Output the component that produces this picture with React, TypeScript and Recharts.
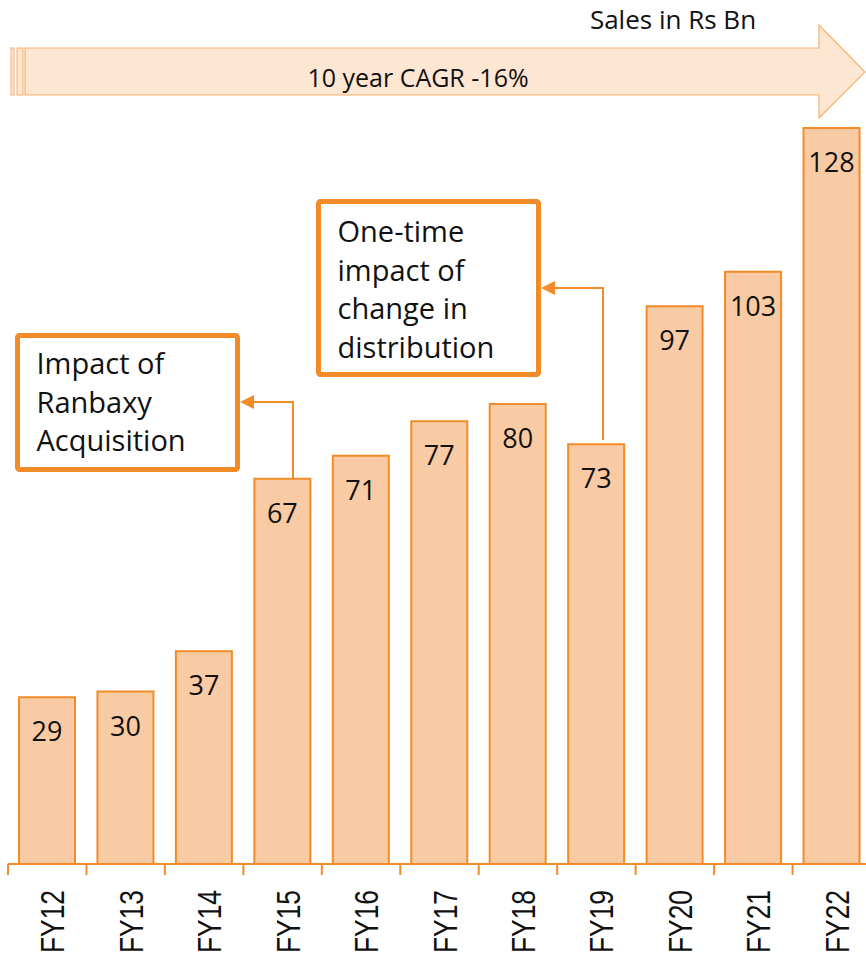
import { BarChart, Bar, XAxis, YAxis, LabelList } from 'recharts';

const YEARS = ['FY12', 'FY13', 'FY14', 'FY15', 'FY16', 'FY17', 'FY18', 'FY19', 'FY20', 'FY21', 'FY22'];
const SALES = [29, 30, 37, 67, 71, 77, 80, 73, 97, 103, 128];

const UNIT_LABEL = 'Sales in Rs Bn';
const CAGR_LABEL = '10 year CAGR -16%';
const NOTE_RANBAXY = ['Impact of', 'Ranbaxy', 'Acquisition'];
const NOTE_DISTRIBUTION = ['One-time', 'impact of', 'change in', 'distribution'];

const ORANGE = '#F28C28';
const BAR_FILL = '#F9CBA4';
const FONT = '"Open Sans", "Noto Sans", sans-serif';

const data = YEARS.map((year, i) => ({ year, sales: SALES[i] }));

const YearTick = ({ x, y, payload, index }: any) => {
  const half = payload?.offset ?? 39.2;
  return (
    <g>
      <line x1={x - half} x2={x - half} y1={y} y2={y + 11} stroke={ORANGE} strokeWidth={2} />
      {index === YEARS.length - 1 && (
        <line x1={x + half} x2={x + half} y1={y} y2={y + 11} stroke={ORANGE} strokeWidth={2} />
      )}
      <text
        x={x + 17}
        y={y + 26}
        transform={`rotate(-90, ${x + 17}, ${y + 26})`}
        textAnchor="end"
        fontFamily='"Liberation Sans", Arial, sans-serif'
        fontSize={34}
        textLength={63}
        lengthAdjust="spacingAndGlyphs"
        fill="#111"
      >
        {payload.value}
      </text>
    </g>
  );
};

const ValueLabel = ({ x, y, width, value }: any) => (
  <text
    x={x + width / 2}
    y={y + 44}
    textAnchor="middle"
    fontFamily={FONT}
    fontSize={27}
    fill="#111"
  >
    {value}
  </text>
);

const Note = ({ x, y, w, h, lines, baseline }: any) => (
  <g>
    <rect x={x} y={y} width={w} height={h} fill="#fff" stroke={ORANGE} strokeWidth={5} rx={2} />
    <text fontFamily={FONT} fontSize={29} fill="#111">
      {lines.map((l: string, i: number) => (
        <tspan key={l} x={x + 19} y={baseline + i * 38.5}>{l}</tspan>
      ))}
    </text>
  </g>
);

const Overlay = () => (
  <svg width={866} height={955} style={{ position: 'absolute', left: 0, top: 0, pointerEvents: 'none' }}>
    {/* growth arrow */}
    <rect x={11} y={48} width={3} height={47} fill="#FDE6D2" stroke="#F8B06E" strokeWidth={1} />
    <rect x={17} y={48} width={6} height={47} fill="#FDE6D2" stroke="#F8B06E" strokeWidth={1} />
    <polygon
      points="25,48 819,48 819,25 865,72 819,118 819,95 25,95"
      fill="#FDE6D2"
      stroke="#F8B06E"
      strokeWidth={1.2}
    />
    <text x={418} y={87} textAnchor="middle" fontFamily={FONT} fontSize={25} fill="#111">{CAGR_LABEL}</text>
    <text x={673} y={29} textAnchor="middle" fontFamily={FONT} fontSize={26} fill="#111">{UNIT_LABEL}</text>

    {/* notes */}
    <Note x={17.5} y={335.5} w={220} h={134} lines={NOTE_RANBAXY} baseline={374} />
    <Note x={318.5} y={201.5} w={220} h={173} lines={NOTE_DISTRIBUTION} baseline={242} />

    {/* connectors */}
    <polyline points="293,478 293,402 252,402" fill="none" stroke={ORANGE} strokeWidth={2} />
    <polygon points="240,402 254,395 254,409" fill={ORANGE} />
    <polyline points="603,440 603,288 553,288" fill="none" stroke={ORANGE} strokeWidth={2} />
    <polygon points="541,288 555,281 555,295" fill={ORANGE} />
  </svg>
);

export default function App() {
  return (
    <div style={{ position: 'absolute', left: 0, top: 0, width: 866, height: 955, overflow: 'hidden', background: '#fff' }}>
      <BarChart
        width={871}
        height={955}
        data={data}
        margin={{ top: 128, right: 0, left: 8, bottom: 0 }}
        barCategoryGap="14%"
      >
        <XAxis
          dataKey="year"
          height={91}
          interval={0}
          tickLine={false}
          tickSize={0}
          tickMargin={0}
          axisLine={{ stroke: ORANGE, strokeWidth: 2 }}
          tick={<YearTick />}
        />
        <YAxis hide domain={[0, 128]} />
        <Bar dataKey="sales" fill={BAR_FILL} stroke={ORANGE} strokeWidth={2} isAnimationActive={false}>
          <LabelList dataKey="sales" content={<ValueLabel />} />
        </Bar>
      </BarChart>
      <Overlay />
    </div>
  );
}
